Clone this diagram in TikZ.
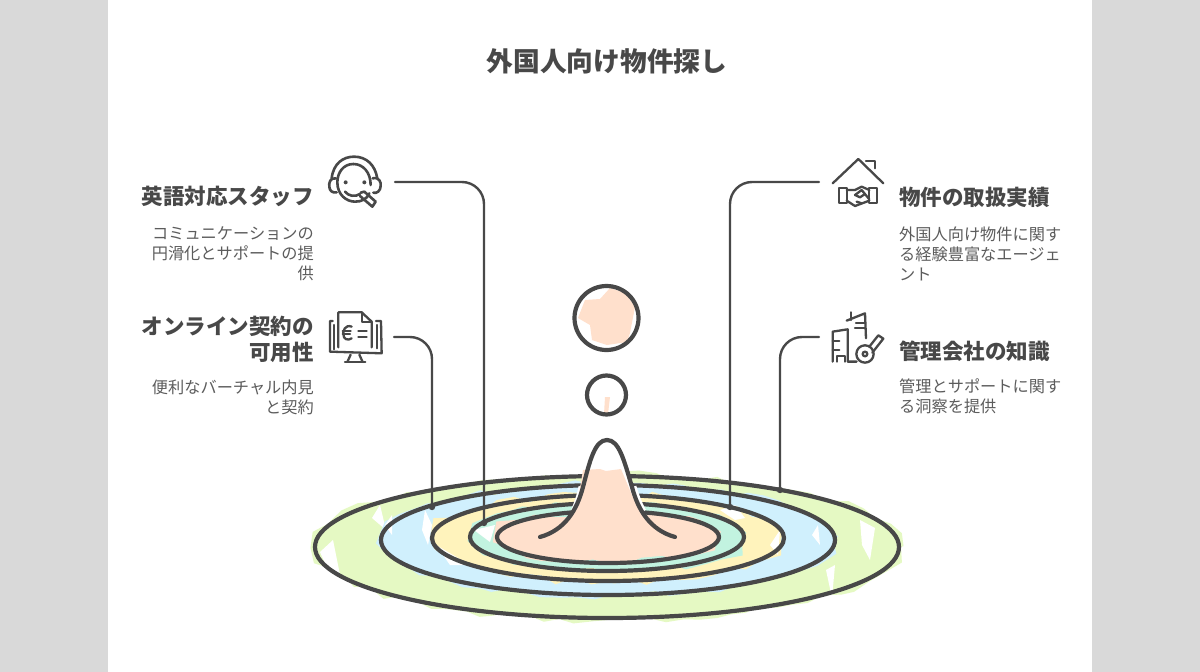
\documentclass[tikz,border=0pt]{standalone}
\usepackage{fontspec}
\setmainfont{Noto Sans CJK JP}
\usetikzlibrary{decorations.pathmorphing}
\definecolor{ink}{HTML}{484848}
\definecolor{bodyink}{HTML}{5C5C5C}
\definecolor{sidegray}{HTML}{D9D9D9}
\definecolor{fgreen}{HTML}{E5F9C3}
\definecolor{fblue}{HTML}{D0F0FD}
\definecolor{fyellow}{HTML}{FFF3BC}
\definecolor{fmint}{HTML}{C2F3E0}
\definecolor{fpeach}{HTML}{FFE0CC}
\tikzset{
  ring/.style={draw=ink,line width=4.2pt},
  jag/.style={decorate,decoration={random steps,segment length=16pt,amplitude=4pt}},
  link/.style={draw=ink,line width=2.4pt,rounded corners=22pt,line cap=round},
  dotend/.style={fill=ink,draw=none},
  icon/.style={draw=ink,line width=2.3pt,line cap=round,line join=round,fill=none},
  titletext/.style={font=\fontsize{26.7}{32}\selectfont\bfseries,text=ink},
  headleft/.style={font=\fontsize{21.5}{26}\selectfont\bfseries,text=ink,align=right,anchor=north east,inner sep=0pt},
  headright/.style={font=\fontsize{21.5}{26}\selectfont\bfseries,text=ink,align=left,anchor=north west,inner sep=0pt},
  bodyleft/.style={font=\fontsize{16.2}{20}\selectfont,text=bodyink,align=right,anchor=north east,inner sep=0pt},
  bodyright/.style={font=\fontsize{16.2}{20}\selectfont,text=bodyink,align=left,anchor=north west,inner sep=0pt},
}
\begin{document}
\begin{tikzpicture}[x=1pt,y=-1pt]
\useasboundingbox (0,0) rectangle (1200,672);
\fill[white] (0,0) rectangle (1200,672);
\fill[sidegray] (0,0) rectangle (108,672);
\fill[sidegray] (1092,0) rectangle (1200,672);

% sketchy fills
\pgfmathsetseed{7}
\fill[fgreen,jag] (607,547) ellipse [x radius=294,y radius=73];
\fill[white] (320,552) -- (333,540) -- (340,575) -- (328,570) -- cycle;
\fill[white] (372,518) -- (380,505) -- (386,530) -- cycle;
\fill[white] (860,520) -- (875,528) -- (870,560) -- (862,545) -- cycle;
\fill[white] (826,570) -- (835,565) -- (832,598) -- cycle;
\fill[fblue,jag] (607,540) ellipse [x radius=226,y radius=56];
\fill[white] (425,510) -- (432,525) -- (428,545) -- (422,530) -- cycle;
\fill[white] (812,535) -- (820,545) -- (818,525) -- cycle;
\fill[white] (385,525) -- (392,515) -- (392,535) -- cycle;
\fill[fyellow,jag] (607,538) ellipse [x radius=174,y radius=44];
\fill[white] (770,545) -- (780,530) -- (778,555) -- cycle;
\fill[white] (436,545) -- (470,565) -- (450,565) -- cycle;
\fill[white] (720,510) -- (735,520) -- (745,518) -- (735,505) -- cycle;
\fill[fmint,jag] (607,537) ellipse [x radius=135,y radius=34];
\fill[white] (474,530) -- (495,525) -- (490,542) -- cycle;
\fill[fpeach,jag] (607,537) ellipse [x radius=110,y radius=25];

% rings
\draw[ring] (607,547) ellipse [x radius=292,y radius=71];
\draw[ring] (608,540) ellipse [x radius=227,y radius=55];
\draw[ring] (608,538) ellipse [x radius=176,y radius=43];
\draw[ring] (607,537) ellipse [x radius=137,y radius=34];
\draw[ring] (608,537) ellipse [x radius=111,y radius=26];

% peak
\fill[white] (571,525) -- (583,487) .. controls (590,460) and (595,440) .. (607,440)
  .. controls (619,440) and (624,460) .. (632,487) -- (645,525) -- cycle;
\draw[white,line width=9pt] (575,512) .. controls (578,505) and (581,497) .. (583,487);
\draw[white,line width=9pt] (632,487) .. controls (635,497) and (638,505) .. (642,512);
\fill[fpeach] (583,470) -- (600,469) -- (606,471) -- (621,469) -- (634,500) -- (650,530) -- (675,545)
  -- (540,545) -- (566,525) -- (578,500) -- cycle;
\draw[ring,line cap=round] (540,537) .. controls (565,530) and (577,510) .. (583,487)
  .. controls (590,460) and (595,440) .. (607,440)
  .. controls (619,440) and (624,460) .. (632,487)
  .. controls (638,510) and (650,530) .. (675,537);

% circles
\fill[fpeach] (578,318) -- (585,300) -- (600,299) -- (610,288) -- (625,293) -- (635,307)
  -- (630,333) -- (627,342) -- (607,345) -- (592,340) -- (590,325) -- cycle;
\draw[ring] (606.5,318) circle [radius=32];
\fill[fpeach] (605,397) -- (610,397) -- (608,414) -- (604,414) -- cycle;
\draw[ring] (606.5,395) circle [radius=19.5];

% connector ends
\coordinate (endA) at (484,523);
\coordinate (endB) at (432,507);
\coordinate (endC) at (730,507);
\coordinate (endD) at (780,490);
\coordinate (startA) at (395,182);
\coordinate (startB) at (394,337);
\coordinate (startC) at (819,182);
\coordinate (startD) at (819,337);
\draw[link] (startA) -| (endA);
\draw[link] (startB) -| (endB);
\draw[link] (startC) -| (endC);
\draw[link] (startD) -| (endD);
\fill[dotend] (endA) circle [radius=3.2];
\fill[dotend] (endB) circle [radius=3.2];
\fill[dotend] (endC) circle [radius=3.2];
\fill[dotend] (endD) circle [radius=3.2];

% headset icon
\begin{scope}[shift={(320,150)},x=0.3333pt,y=-0.3333pt]
\draw[icon,line width=2.6pt] (100,42) .. controls (70,42) and (52,68) .. (52,97) .. controls (52,135) and (80,155) .. (105,155) .. controls (125,155) and (140,148) .. (148,130);
\draw[icon,line width=2.6pt] (100,42) .. controls (130,42) and (152,68) .. (152,105);
\draw[icon,line width=2.6pt] (35,85) .. controls (40,40) and (70,20) .. (102,20) .. controls (140,20) and (165,45) .. (172,85);
\draw[icon,line width=2.6pt] (48,85) .. controls (30,82) and (26,100) .. (28,110) .. controls (28,122) and (38,130) .. (50,127);
\draw[icon,line width=2.6pt] (158,85) .. controls (178,80) and (184,98) .. (182,108) .. controls (182,122) and (170,132) .. (160,128);
\fill[ink] (77,97) circle [radius=6];
\fill[ink] (133,97) circle [radius=6];
\draw[icon,line width=2.6pt] (75,125) .. controls (85,138) and (105,142) .. (120,132);
\draw[icon,line width=2.6pt] (122,128) -- (133,125) -- (167,155) -- (157,170) -- (120,138);
\end{scope}

% monitor icon
\begin{scope}[shift={(320,150)},x=0.3333pt,y=-0.3333pt]
\draw[icon] (55,592) -- (55,487) -- (125,487) -- (155,515) -- (155,592);
\draw[icon] (125,487) -- (125,515) -- (155,515);
\draw[icon] (38,513) -- (30,513) -- (30,605) -- (185,610) -- (183,513) -- (168,513);
\draw[icon] (42,525) -- (42,598);
\draw[icon] (170,525) -- (170,595);
\draw[icon] (95,530) .. controls (75,522) and (68,545) .. (70,552) .. controls (70,570) and (85,572) .. (95,565);
\draw[icon] (68,543) -- (92,543);
\draw[icon] (68,553) -- (90,553);
\draw[icon] (115,543) -- (140,543);
\draw[icon] (115,562) -- (140,562);
\draw[icon] (92,614) -- (82,636);
\draw[icon] (118,614) -- (128,636);
\draw[icon] (75,637) -- (136,637);
\end{scope}

% house handshake icon
\begin{scope}[shift={(810,150)},x=0.3333pt,y=-0.3333pt]
\draw[icon] (68,100) -- (145,27) -- (220,100);
\draw[icon] (168,32) -- (194,32) -- (194,55);
\draw[icon] (88,115) -- (110,115) -- (110,160) -- (88,160) -- cycle;
\draw[icon] (178,115) -- (200,115) -- (200,160) -- (178,160) -- cycle;
\draw[icon] (110,120) -- (135,120) -- (155,110) -- (178,120);
\draw[icon] (110,152) -- (135,168) -- (178,152);
\draw[icon] (135,135) -- (155,120) -- (178,148);
\draw[icon] (135,135) -- (150,142) -- (165,132);
\draw[icon] (140,155) -- (155,160);
\end{scope}

% buildings and key icon
\begin{scope}[shift={(810,150)},x=0.3333pt,y=-0.3333pt]
\draw[icon] (68,635) -- (68,545) -- (113,538) -- (113,635) -- (140,635);
\draw[icon] (68,572) -- (88,572);
\draw[icon] (68,600) -- (88,600);
\draw[icon] (80,635) -- (80,618) -- (104,618) -- (104,635);
\draw[icon] (110,512) -- (165,490) -- (168,565);
\draw[icon] (122,487) -- (122,510);
\draw[icon] (138,520) -- (165,520);
\draw[icon] (135,535) -- (165,535);
\draw[icon] (165,612) circle [radius=26];
\draw[icon] (165,612) circle [radius=7];
\draw[icon] (178,590) -- (205,556) -- (220,566) -- (187,608);
\end{scope}

% texts
\node[titletext] (title) at (607,61) {外国人向け物件探し};
\node[headleft] (h1) at (314,186) {英語対応スタッフ};
\node[bodyleft] (b1) at (314,226.5) {コミュニケーションの\\円滑化とサポートの提\\供};
\node[headleft] (h2) at (314,315.5) {オンライン契約の\\可用性};
\node[bodyleft] (b2) at (314,379.5) {便利なバーチャル内見\\と契約};
\node[headright] (h3) at (899,187) {物件の取扱実績};
\node[bodyright] (b3) at (899,227) {外国人向け物件に関す\\る経験豊富なエージェ\\ント};
\node[headright] (h4) at (899,341) {管理会社の知識};
\node[bodyright] (b4) at (899,379) {管理とサポートに関す\\る洞察を提供};
\end{tikzpicture}
\end{document}
